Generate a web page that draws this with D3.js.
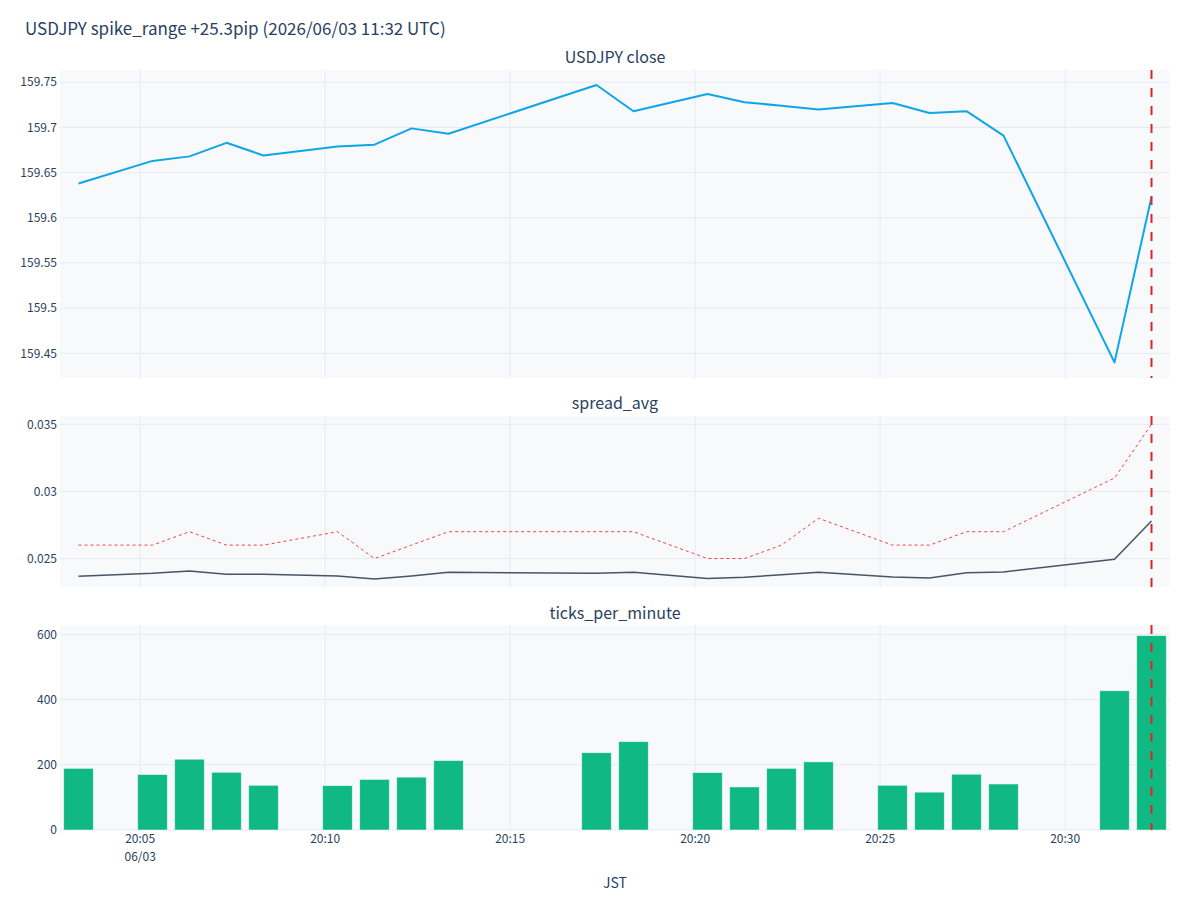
<!DOCTYPE html>
<html>
<head>
<meta charset="utf-8">
<script src="https://cdn.jsdelivr.net/npm/d3@7"></script>
<style>
  body { margin: 0; background: #fff; }
  svg { display: block; font-family: "Noto Sans CJK JP", "Noto Sans", sans-serif; }
</style>
</head>
<body>
<svg id="chart" width="1200" height="900"></svg>
<script>
// ---------- data (JST timestamps, 2026/06/03) ----------
const times = ["20:03:20","20:05:20","20:06:20","20:07:20","20:08:20","20:10:20","20:11:20",
  "20:12:20","20:13:20","20:17:20","20:18:20","20:20:20","20:21:20","20:22:20","20:23:20",
  "20:25:20","20:26:20","20:27:20","20:28:20","20:31:20","20:32:20"];
const closeVals = [159.638,159.663,159.668,159.683,159.669,159.679,159.681,159.699,159.693,
  159.747,159.718,159.737,159.728,159.724,159.720,159.727,159.716,159.718,159.691,159.440,159.623];
const spreadAvg = [0.02368,0.0239,0.02408,0.02383,0.02383,0.0237,0.02348,0.0237,0.02398,
  0.0239,0.02398,0.02351,0.0236,0.0238,0.02398,0.02363,0.02355,0.02395,0.024,0.02495,0.0278];
const spreadMax = [0.026,0.026,0.027,0.026,0.026,0.027,0.025,0.026,0.027,0.027,0.027,
  0.025,0.025,0.026,0.028,0.026,0.026,0.027,0.027,0.031,0.035];
const ticksPerMin = [189,170,217,177,137,136,155,162,213,237,271,176,132,189,209,137,116,171,141,427,596];
const closeTicks = [159.45,159.5,159.55,159.6,159.65,159.7,159.75];
const spreadTicks = [0.025,0.03,0.035];
const tickTicks = [0,200,400,600];
const eventTime = "20:32:20";
const xRangeTimes = ["20:02:50","20:32:50"];
const titleText = "USDJPY spike_range +25.3pip (2026/06/03 11:32 UTC)";
const panelTitles = ["USDJPY close","spread_avg","ticks_per_minute"];
const xAxisTitle = "JST";
const dateLabel = "06/03";

// ---------- helpers ----------
const parseT = s => { const [h,m,sec] = s.split(":").map(Number); return new Date(Date.UTC(2026,5,3,h,m,sec)); };
const T = times.map(parseT);
const textColor = "#2a3f5f";
const gridColor = "#e6eaf2";
const bgColor = "#f8f9fa";

const svg = d3.select("#chart");
svg.append("rect").attr("width",1200).attr("height",900).attr("fill","#fff");

const L = 60, R = 1170;
const x = d3.scaleUtc().domain(xRangeTimes.map(parseT)).range([L, R]);
const xTicks = d3.utcMinute.every(5).range(x.domain()[0], x.domain()[1]);

const panels = [
  {top:70, bottom:378, domain:[159.4227,159.7636], ticks:closeTicks, fmt:v=>String(+v.toFixed(2)), title:panelTitles[0], titleY:63},
  {top:416, bottom:587, domain:[0.02288,0.03562], ticks:spreadTicks, fmt:v=>String(+v.toFixed(3)), title:panelTitles[1], titleY:409},
  {top:625, bottom:830, domain:[0,628.6], ticks:tickTicks, fmt:v=>String(v), title:panelTitles[2], titleY:619}
];

svg.append("text").attr("x",25).attr("y",35).attr("fill",textColor)
  .attr("font-size",17).text(titleText);

panels.forEach((p,i) => {
  p.y = d3.scaleLinear().domain(p.domain).range([p.bottom, p.top]);
  const g = svg.append("g");
  g.append("rect").attr("x",L).attr("y",p.top).attr("width",R-L).attr("height",p.bottom-p.top).attr("fill",bgColor);
  // vertical grid
  g.selectAll(".vg").data(xTicks).join("line")
    .attr("x1",d=>x(d)).attr("x2",d=>x(d)).attr("y1",p.top).attr("y2",p.bottom)
    .attr("stroke",gridColor).attr("stroke-width",1);
  // horizontal grid
  g.selectAll(".hg").data(p.ticks).join("line")
    .attr("x1",L).attr("x2",R).attr("y1",d=>p.y(d)).attr("y2",d=>p.y(d))
    .attr("stroke",gridColor).attr("stroke-width",1);
  // y tick labels
  g.selectAll(".yl").data(p.ticks).join("text")
    .attr("x",57).attr("y",d=>p.y(d)).attr("dy","0.35em").attr("text-anchor","end")
    .attr("font-size",12).attr("fill",textColor).text(p.fmt);
  // panel title
  svg.append("text").attr("x",(L+R)/2).attr("y",p.titleY).attr("text-anchor","middle")
    .attr("font-size",16).attr("fill",textColor).text(p.title);
  p.g = g;
});

// panel 1: close
const p1 = panels[0];
p1.g.append("path").datum(closeVals)
  .attr("d", d3.line().x((d,i)=>x(T[i])).y(d=>p1.y(d)))
  .attr("fill","none").attr("stroke","#0ea5e9").attr("stroke-width",2).attr("stroke-linejoin","round");

// panel 2: spread
const p2 = panels[1];
p2.g.append("path").datum(spreadAvg)
  .attr("d", d3.line().x((d,i)=>x(T[i])).y(d=>p2.y(d)))
  .attr("fill","none").attr("stroke","#475569").attr("stroke-width",1.5);
p2.g.append("path").datum(spreadMax)
  .attr("d", d3.line().x((d,i)=>x(T[i])).y(d=>p2.y(d)))
  .attr("fill","none").attr("stroke","#ef4444").attr("stroke-width",1).attr("stroke-dasharray","3,3");

// panel 3: bars
const p3 = panels[2];
const minW = x(parseT("20:04:00")) - x(parseT("20:03:00"));
const bw = minW * 0.8;
p3.g.selectAll(".bar").data(ticksPerMin).join("rect")
  .attr("x",(d,i)=>x(T[i]) - bw/2).attr("width",bw)
  .attr("y",d=>p3.y(d)).attr("height",d=>p3.y(0)-p3.y(d))
  .attr("fill","#10b981").attr("stroke","#ffffff").attr("stroke-opacity",0.6).attr("stroke-width",0.8);

// event vertical line across all panels
const ex = x(parseT(eventTime));
panels.forEach(p => {
  svg.append("line").attr("x1",ex).attr("x2",ex).attr("y1",p.top).attr("y2",p.bottom)
    .attr("stroke","#dc2626").attr("stroke-width",2).attr("stroke-dasharray","9,9");
});

// x tick labels
const fmt = d3.utcFormat("%H:%M");
svg.selectAll(".xl").data(xTicks).join("text")
  .attr("x",d=>x(d)).attr("y",843).attr("text-anchor","middle")
  .attr("font-size",12).attr("fill",textColor).text(fmt);
svg.append("text").attr("x",x(xTicks[0])).attr("y",861).attr("text-anchor","middle")
  .attr("font-size",12).attr("fill",textColor).text(dateLabel);
svg.append("text").attr("x",(L+R)/2).attr("y",888).attr("text-anchor","middle")
  .attr("font-size",14).attr("fill",textColor).text(xAxisTitle);
</script>
</body>
</html>
